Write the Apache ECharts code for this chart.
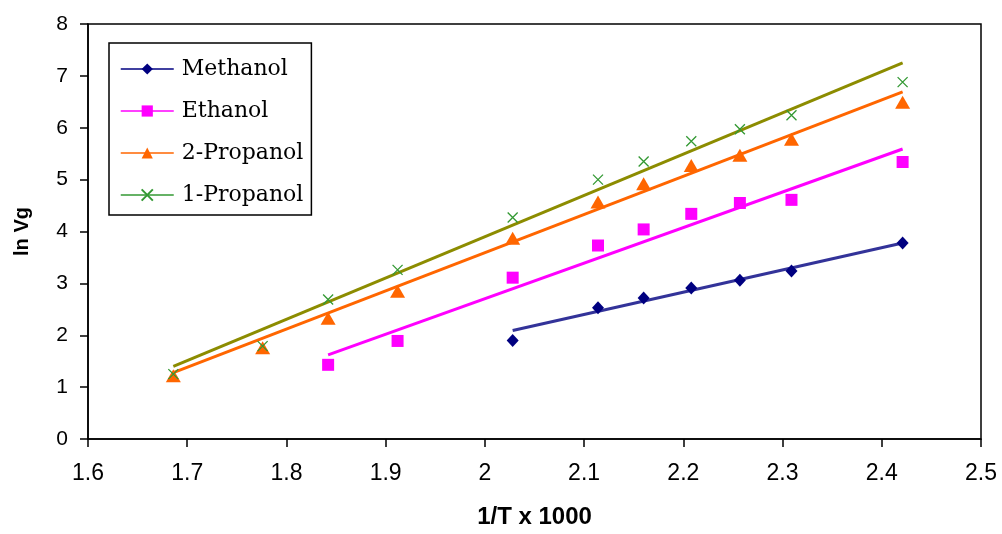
<!DOCTYPE html>
<html>
<head>
<meta charset="utf-8">
<script src="https://cdn.jsdelivr.net/npm/echarts@6/dist/echarts.min.js"></script>
<style>
  html, body { margin: 0; padding: 0; background: #fff; }
  #chart { width: 1002px; height: 534px; }
</style>
</head>
<body>
<div id="chart"></div>
<script>
// 1/T x 1000 for each measurement temperature
const invT = [1.686, 1.776, 1.842, 1.912, 2.028, 2.114, 2.160, 2.208, 2.257, 2.309, 2.421];

// ln Vg values (null where the solute was not measured)
const methanol   = [null, null, null, null, 1.90, 2.53, 2.72, 2.91, 3.06, 3.24, 3.78];
const ethanol    = [null, null, 1.43, 1.89, 3.11, 3.73, 4.04, 4.34, 4.55, 4.61, 5.34];
const propanol2  = [1.22, 1.76, 2.33, 2.85, 3.87, 4.57, 4.92, 5.27, 5.47, 5.78, 6.49];
const propanol1  = [1.25, 1.79, 2.69, 3.26, 4.27, 5.00, 5.35, 5.74, 5.97, 6.24, 6.88];

// Linear fit lines: [x, ln Vg] at the start and end of each fit
const methanolFit  = [[2.028, 2.09], [2.421, 3.78]];
const ethanolFit   = [[1.842, 1.62], [2.421, 5.59]];
const propanol2Fit = [[1.686, 1.28], [2.421, 6.69]];
const propanol1Fit = [[1.686, 1.40], [2.421, 7.25]];

const names = ['Methanol', 'Ethanol', '2-Propanol', '1-Propanol'];
const xTicks = { min: 1.6, max: 2.5, step: 0.1 };
const yTicks = { min: 0, max: 8, step: 1 };

function pairs(ys) {
  const out = [];
  ys.forEach((y, i) => { if (y !== null) out.push([invT[i], y]); });
  return out;
}

const markerStyles = [
  { color: '#000080', symbol: 'diamond', size: [12, 13], line: '#333399', fill: '#000080', border: 0 },
  { color: '#ff00ff', symbol: 'rect', size: [12, 12], line: '#ff00ff', fill: '#ff00ff', border: 0 },
  { color: '#ff6600', symbol: 'triangle', size: [15, 13], line: '#ff6600', fill: '#ff6600', border: 0 },
  { color: '#339933', symbol: 'path://M0,0L10,10M10,0L0,10', size: [10, 10], line: '#8c8c00', fill: 'rgba(0,0,0,0)', border: 1.3 }
];
const pointSets = [methanol, ethanol, propanol2, propanol1];
const fitSets = [methanolFit, ethanolFit, propanol2Fit, propanol1Fit];

const series = [];
// fit lines underneath
fitSets.forEach((fit, i) => {
  series.push({
    name: names[i] + ' fit',
    type: 'line',
    data: fit,
    symbol: 'none',
    silent: true,
    z: 2,
    lineStyle: { color: markerStyles[i].line, width: 3 }
  });
});
// measured points on top
pointSets.forEach((ys, i) => {
  const m = markerStyles[i];
  series.push({
    name: names[i],
    type: 'line',
    data: pairs(ys),
    symbol: m.symbol,
    symbolSize: m.size,
    showAllSymbol: true,
    z: 3,
    lineStyle: { color: m.color, width: 1.5, opacity: 0 },
    itemStyle: { color: m.fill, borderColor: m.color, borderWidth: m.border, opacity: 1 }
  });
});

const chart = echarts.init(document.getElementById('chart'), null, { renderer: 'canvas' });
chart.setOption({
  animation: false,
  backgroundColor: '#ffffff',
  grid: {
    left: 88, right: 21, top: 24, bottom: 92,
    show: true, borderColor: '#000', borderWidth: 1.5, backgroundColor: '#fff'
  },
  legend: {
    orient: 'vertical',
    left: 109, top: 43,
    padding: [15, 8, 9, 11],
    itemWidth: 53, itemHeight: 14, itemGap: 20,
    borderColor: '#000', borderWidth: 1.5,
    backgroundColor: '#fff',
    selectedMode: false,
    textStyle: { fontFamily: 'DejaVu Serif', fontSize: 22, lineHeight: 20, color: '#000', padding: [0, 0, 0, 3] },
    data: names.map((n, i) => ({
      name: n,
      lineStyle: { color: markerStyles[i].color, width: 1.5, opacity: 1 }
    }))
  },
  xAxis: {
    type: 'value',
    min: xTicks.min, max: xTicks.max, interval: xTicks.step,
    name: '1/T x 1000',
    nameLocation: 'middle',
    nameGap: 66,
    nameTextStyle: { fontFamily: 'Liberation Sans', fontWeight: 'bold', fontSize: 24, color: '#000' },
    axisLine: { lineStyle: { color: '#000', width: 1.5 } },
    axisTick: { inside: false, length: 8, lineStyle: { color: '#000', width: 1.5 } },
    axisLabel: { margin: 23, fontFamily: 'Liberation Sans', fontSize: 23, color: '#000' },
    splitLine: { show: false }
  },
  yAxis: {
    type: 'value',
    min: yTicks.min, max: yTicks.max, interval: yTicks.step,
    name: 'ln Vg',
    nameLocation: 'middle',
    nameGap: 56,
    nameTextStyle: { fontFamily: 'Liberation Sans', fontWeight: 'bold', fontSize: 20, color: '#000' },
    axisLine: { lineStyle: { color: '#000', width: 1.5 } },
    axisTick: { inside: false, length: 8, lineStyle: { color: '#000', width: 1.5 } },
    axisLabel: { margin: 20, fontFamily: 'Liberation Sans', fontSize: 21, color: '#000' },
    splitLine: { show: false }
  },
  series: series
});
</script>
</body>
</html>
